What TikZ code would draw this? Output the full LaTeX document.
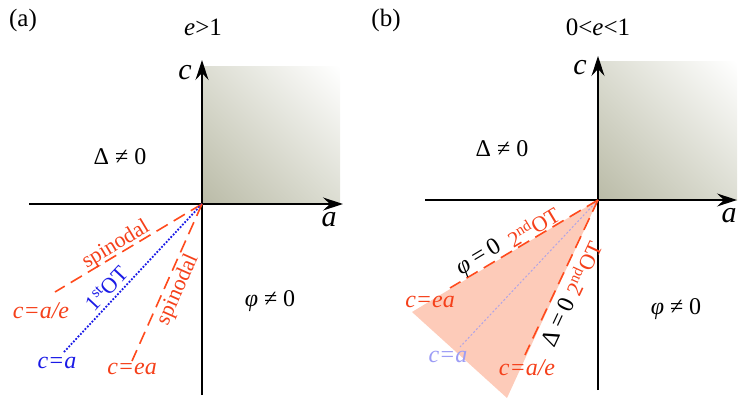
\documentclass[tikz,border=0pt]{standalone}
\usepackage{fontspec}
\setmainfont{Liberation Serif}
\usetikzlibrary{arrows.meta,shadings}
\definecolor{redline}{HTML}{FF4A1C}
\definecolor{redtext}{HTML}{F5401A}
\definecolor{bluel}{HTML}{1A1AE6}
\definecolor{pinkfill}{HTML}{FDCBB9}
\definecolor{lavline}{HTML}{B0A4E6}
\definecolor{lavtext}{HTML}{9C9CF5}
\definecolor{sqdark}{HTML}{BABBA7}
\definecolor{sqmid}{HTML}{DCDDD2}
\tikzset{
  axis/.style={line width=1.2pt, -{Stealth[length=20pt,width=13pt,inset=7pt]}},
  plainax/.style={line width=1.2pt},
  axlab/.style={font=\fontsize{30}{32}\selectfont\itshape, inner sep=0pt},
  reglab/.style={font=\fontsize{24}{28}\selectfont, inner sep=0pt},
  title/.style={font=\fontsize{25}{28}\selectfont, inner sep=0pt},
  eqlab/.style={font=\fontsize{24}{28}\selectfont\itshape, inner sep=0pt},
  linelab/.style={font=\fontsize{22}{26}\selectfont, inner sep=0pt},
  redd/.style={draw=redline, line width=1.6pt, dash pattern=on 13pt off 7pt},
  bluedot/.style={draw=bluel, line width=1.8pt, dash pattern=on 1.8pt off 1.6pt},
  lavdot/.style={draw=lavline, line width=1pt, dash pattern=on 2pt off 2pt},
  sqshade/.style={lower left=sqdark, lower right=sqmid, upper left=sqmid, upper right=white},
}
\begin{document}
\begin{tikzpicture}[x=1pt,y=-1pt]
\useasboundingbox (0,0) rectangle (747,409);
% ---------------- panel (a)
\coordinate (O1) at (202,204);
\coordinate (H1s) at (29,204);
\coordinate (H1e) at (343,204);
\coordinate (V1s) at (202,395);
\coordinate (V1e) at (202,60);
\shade[sqshade] (202,67) rectangle (340,204);
\draw[plainax] (V1s) -- (O1);
\draw[axis] (O1) -- (V1e);
\draw[axis] (H1s) -- (H1e);
\node[axlab] (c1) at (185,73) {c};
\node[axlab] (a1) at (329,220) {a};
\node[title] (ta) at (23,20) {(a)};
\node[title] (tea) at (203,27) {\textit{e}>1};
\node[reglab] (d1) at (120,157) {Δ\hspace{0.25em}≠\hspace{0.25em}0};
\node[reglab] (p1) at (270,301) {\textit{φ}\hspace{0.25em}≠\hspace{0.25em}0};
\coordinate (E1ae) at (55,292);
\coordinate (E1a) at (64,352);
\coordinate (E1ea) at (132,361);
\draw[redd] (O1) -- (E1ae);
\draw[bluedot] (O1) -- (E1a);
\draw[redd] (O1) -- (E1ea);
\node[eqlab, text=redtext] (l1ae) at (41,311) {c=a/e};
\node[eqlab, text=bluel] (l1a) at (57,363) {c=a};
\node[eqlab, text=redtext] (l1ea) at (132,369) {c=ea};
\node[linelab, text=redtext, rotate=31] (s1) at (116,245) {spinodal};
\node[linelab, text=bluel, rotate=47] (ot1) at (106,288) {1\textsuperscript{st}OT};
\node[linelab, text=redtext, rotate=66] (s2) at (178,290) {spinodal};
% ---------------- panel (b)
\coordinate (O2) at (598,200);
\coordinate (H2s) at (425,200);
\coordinate (H2e) at (737,200);
\coordinate (V2s) at (598,390);
\coordinate (V2e) at (598,56);
\fill[pinkfill] (O2) -- (412,312) -- (507,398) -- cycle;
\shade[sqshade] (598,62) rectangle (737,200);
\draw[plainax] (V2s) -- (O2);
\draw[axis] (O2) -- (V2e);
\draw[axis] (H2s) -- (H2e);
\node[axlab] (c2) at (580,68) {c};
\node[axlab] (a2) at (729,216) {a};
\node[title] (tb) at (386,20) {(b)};
\node[title] (teb) at (598,27) {0<\textit{e}<1};
\node[reglab] (d2) at (502,149) {Δ\hspace{0.25em}≠\hspace{0.25em}0};
\node[reglab] (p2) at (676,309) {\textit{φ}\hspace{0.25em}≠\hspace{0.25em}0};
\coordinate (E2ea) at (450,288);
\coordinate (E2ae) at (525,355);
\coordinate (E2a) at (460,347);
\draw[lavdot] (O2) -- (E2a);
\draw[redd] (O2) -- (E2ea);
\draw[redd] (O2) -- (E2ae);
\node[eqlab, text=redtext] (l2ea) at (430,302) {c=ea};
\node[eqlab, text=lavtext] (l2a) at (448,357) {c=a};
\node[eqlab, text=redtext] (l2ae) at (527,368) {c=a/e};
\node[reglab, rotate=31] (phi0) at (479,258) {\textit{φ}\hspace{0.2em}=\hspace{0.2em}0};
\node[linelab, text=redtext, rotate=31] (ot2) at (533,226) {2\textsuperscript{nd}OT};
\node[reglab, rotate=65] (del0) at (558,322) {Δ\hspace{0.2em}=\hspace{0.2em}0};
\node[linelab, text=redtext, rotate=65] (ot3) at (583,268) {2\textsuperscript{nd}OT};
\end{tikzpicture}
\end{document}
